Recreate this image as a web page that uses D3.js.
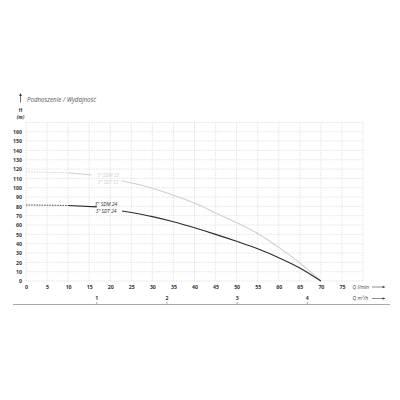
<!DOCTYPE html>
<html lang="pl">
<head>
<meta charset="UTF-8">
<title>Podnoszenie / Wydajność</title>
<style>
  body { margin: 0; background: #fff; }
  text { font-family: "Open Sans", sans-serif; }
</style>
</head>
<body>
<script src="https://cdnjs.cloudflare.com/ajax/libs/d3/7.8.5/d3.min.js"></script>
<script>
// flow in l/min and head in m
const flow33 = [0, 10, 15.6, 22.7, 30, 35, 40, 45, 50, 55, 60, 65, 70];
const head33 = [117, 116, 113.6, 107.5, 99.5, 92, 83.5, 73, 62.5, 51, 36, 19.5, 0];
const flow24 = [0, 10, 16.8, 22.8, 30, 35, 40, 45, 50, 55, 60, 65, 70];
const head24 = [81.5, 81, 79.5, 75, 69, 63.5, 57, 50, 42.5, 34.5, 25, 14, 0];

const xTicks = d3.range(0, 80, 5);      // l/min labels 0..75
const yTicks = d3.range(0, 170, 10);    // m labels 0..160
const m3hTicks = [1, 2, 3, 4];

const width = 400, height = 400;
const svg = d3.select("body").append("svg")
    .attr("width", width)
    .attr("height", height);

const x = d3.scaleLinear().domain([0, 80]).range([26, 363]);
const y = d3.scaleLinear().domain([0, 170]).range([281, 122.4]);
const xm = d3.scaleLinear().domain([0, 80 * 0.06]).range([26, 363]);

// grid
const grid = svg.append("g").attr("stroke", "#d4d4d4").attr("stroke-width", 0.6)
    .attr("stroke-dasharray", "1.5,1");
grid.selectAll("line.v").data(d3.range(0, 85, 5)).join("line")
    .attr("x1", d => x(d)).attr("x2", d => x(d))
    .attr("y1", y(0)).attr("y2", y(170));
grid.selectAll("line.h").data(d3.range(0, 180, 10)).join("line")
    .attr("class", "h")
    .attr("x1", x(0)).attr("x2", x(80))
    .attr("y1", d => y(d)).attr("y2", d => y(d));

// axis tick labels
const yAxis = d3.axisLeft(y).tickValues(yTicks).tickSize(0).tickPadding(4);
svg.append("g").attr("transform", `translate(${x(0)},0)`).call(yAxis)
    .call(g => g.select(".domain").remove())
    .selectAll("text").attr("font-size", 5.2).attr("font-weight", "bold").attr("fill", "#333")
    .attr("font-family", "Open Sans");

const xAxis = d3.axisBottom(x).tickValues(xTicks).tickSize(0).tickPadding(4);
svg.append("g").attr("transform", `translate(0,${y(0)})`).call(xAxis)
    .call(g => g.select(".domain").remove())
    .selectAll("text").attr("font-size", 5.2).attr("font-weight", "bold").attr("fill", "#333")
    .attr("font-family", "Open Sans");

// second flow axis in m3/h
const mAxis = d3.axisTop(xm).tickValues(m3hTicks).tickFormat(d3.format("d"))
    .tickSize(-2.5).tickPadding(2.5);
const mg = svg.append("g").attr("transform", "translate(0,302)").call(mAxis);
mg.select(".domain").remove();
mg.selectAll(".tick line").attr("stroke", "#777").attr("stroke-width", 0.6);
mg.selectAll("text").attr("font-size", 5.2).attr("font-weight", "bold").attr("fill", "#333")
    .attr("font-family", "Open Sans");
svg.append("line").attr("x1", 13).attr("x2", 390).attr("y1", 304.5).attr("y2", 304.5)
    .attr("stroke", "#aaa").attr("stroke-width", 1.2);

// unit labels with arrows
function unitLabel(label, yy) {
  const g = svg.append("g");
  g.append("text").attr("x", 352.5).attr("y", yy + 1.8).attr("font-size", 5)
      .attr("font-style", "italic").attr("fill", "#444").text(label);
  g.append("line").attr("x1", 372).attr("x2", 383).attr("y1", yy).attr("y2", yy)
      .attr("stroke", "#444").attr("stroke-width", 0.6);
  g.append("path").attr("d", `M385.5,${yy} l-3,-1.3 v2.6 z`).attr("fill", "#444");
}
unitLabel("Q l/min", 287);
unitLabel("Q m³/h", 298.5);

// title, arrow and H (m)
svg.append("line").attr("x1", 20.5).attr("x2", 20.5).attr("y1", 95).attr("y2", 102.5)
    .attr("stroke", "#333").attr("stroke-width", 0.7);
svg.append("path").attr("d", "M20.5,93 l-1.4,3 h2.8 z").attr("fill", "#333");
svg.append("text").attr("x", 27).attr("y", 101.5).attr("font-size", 6.2)
    .attr("font-style", "italic").attr("fill", "#555").text("Podnoszenie / Wydajność");
svg.append("text").attr("x", 20.5).attr("y", 111.5).attr("text-anchor", "middle")
    .attr("font-size", 4.8).attr("font-weight", "bold").attr("fill", "#333").text("H");
svg.append("text").attr("x", 20.5).attr("y", 118.5).attr("text-anchor", "middle")
    .attr("font-size", 4.8).attr("font-weight", "bold").attr("font-style", "italic")
    .attr("fill", "#333").text("(m)");

// curves
const line = d3.line().x(d => x(d[0])).y(d => y(d[1])).curve(d3.curveMonotoneX);

function pumpCurve(flow, head, color, gapFrom, gapTo, names, labelQ, labelY) {
  const pts = flow.map((q, i) => [q, head[i]]);
  svg.append("path").datum(pts.filter(d => d[0] <= 10))
      .attr("d", line).attr("fill", "none").attr("stroke", color)
      .attr("stroke-width", 0.8).attr("stroke-dasharray", "1.6,1");
  svg.append("path").datum(pts.filter(d => d[0] >= 10 && d[0] <= gapFrom))
      .attr("d", line).attr("fill", "none").attr("stroke", color).attr("stroke-width", 1.1);
  svg.append("path").datum(pts.filter(d => d[0] >= gapTo))
      .attr("d", line).attr("fill", "none").attr("stroke", color).attr("stroke-width", 1.1);
  names.forEach((n, i) => {
    svg.append("text").attr("x", x(labelQ)).attr("y", labelY + i * 6.6)
        .attr("text-anchor", "middle").attr("font-size", 4.9).attr("font-style", "italic")
        .attr("font-family", "Liberation Sans")
        .attr("fill", color).text(n);
  });
}
pumpCurve(flow33, head33, "#cfcfcf", 15.6, 22.7, ['3" SDM 33', '3" SDT 33'], 19.5, 177);
pumpCurve(flow24, head24, "#2b2b2b", 16.8, 22.8, ['3" SDM 24', '3" SDT 24'], 19, 206.3);
</script>
</body>
</html>
